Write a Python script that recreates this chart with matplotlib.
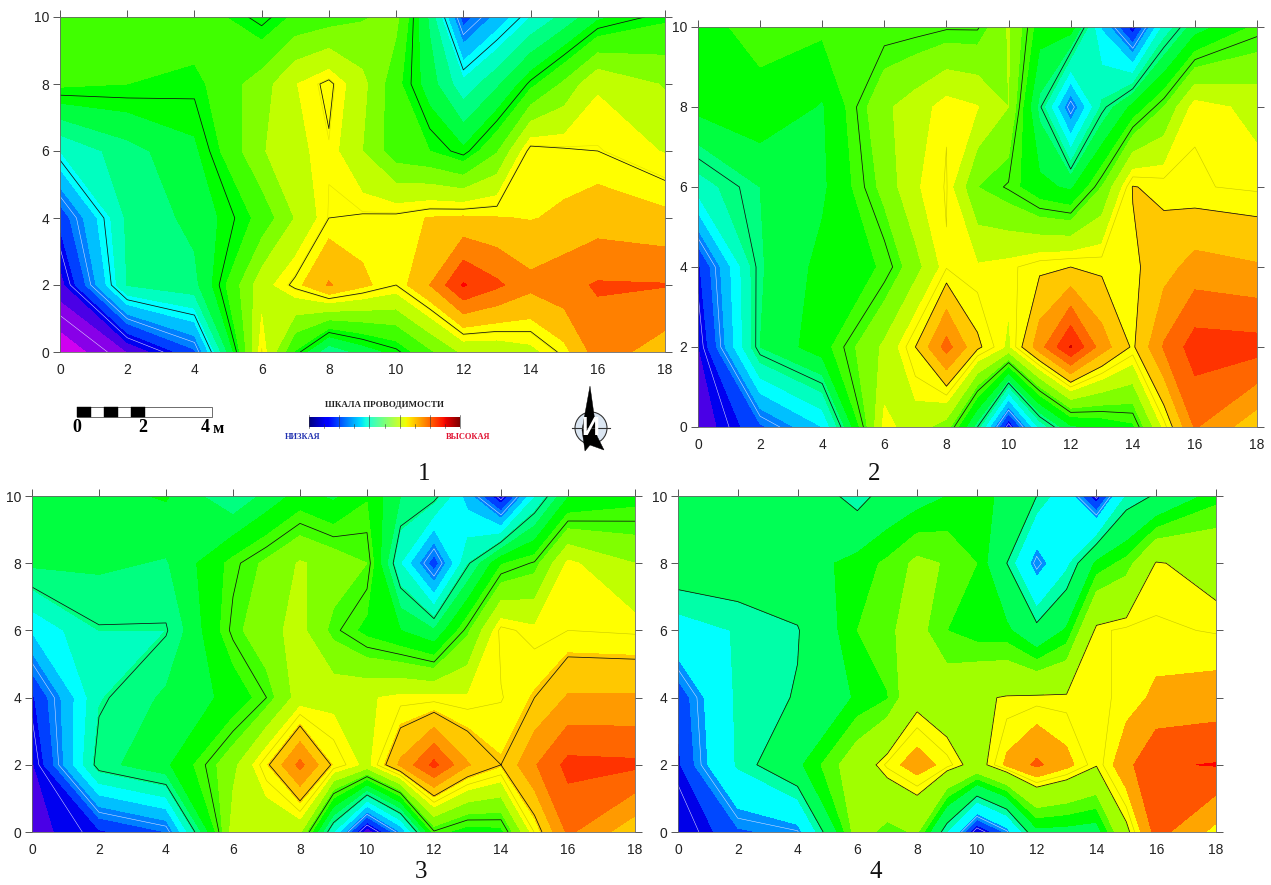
# Four conductivity contour maps with scale bar, colour scale and north arrow
import numpy as np
import matplotlib
matplotlib.use('Agg')
import matplotlib.pyplot as plt
from matplotlib.patches import Rectangle, Circle, Polygon

W, H = 1271, 885

x_vals = [0, 2, 4, 6, 7, 8, 9, 10, 11, 12, 13, 14, 15, 16, 18]
y_vals = [10, 8, 6, 4, 2, 0]
x_ticks = list(range(0, 19, 2))
y_ticks = list(range(0, 11, 2))

# values are in colour-band units, rows go from y=10 down to y=0
panel1_z = [
    [12.5, 12.5, 12.7, 11.2, 12.2, 12.5, 12.9, 13.3, 9.8, 4.5, 6.3, 8.0, 9.3, 10.8, 11.8],
    [12.2, 12.0, 11.7, 13.5, 14.95, 15.7, 14.3, 12.3, 10.5, 8.3, 9.8, 11.7, 13.2, 14.9, 13.9],
    [8.0, 9.6, 10.8, 13.9, 14.7, 15.4, 14.0, 12.4, 12.0, 11.2, 12.9, 15.8, 15.6, 15.5, 14.95],
    [4.3, 9.2, 10.3, 12.3, 14.05, 15.5, 15.6, 15.7, 16.05, 16.15, 16.05, 15.95, 16.15, 16.5, 16.2],
    [2.5, 9.05, 9.7, 14.6, 15.7, 17.1, 16.2, 15.5, 17.0, 19.1, 18.2, 17.3, 17.7, 18.1, 18.05],
    [0.3, 2.0, 4.8, 15.5, 11.9, 9.2, 10.4, 11.3, 12.8, 14.2, 14.3, 14.7, 15.7, 17.5, 16.5],
]
panel2_z = [
    [11.8, 12.2, 12.2, 12.1, 12.2, 12.4, 12.4, 14.1, 11.5, 11.6, 6.9, 3.4, 8.3, 10.5, 12.2],
    [11.3, 11.8, 10.9, 13.8, 14.5, 15.4, 15.05, 14.0, 9.7, 5.0, 9.2, 11.3, 13.0, 15.4, 14.7],
    [8.5, 10.0, 10.8, 13.3, 14.9, 15.5, 13.0, 12.4, 11.3, 10.8, 13.0, 16.05, 15.75, 15.5, 15.35],
    [3.8, 9.9, 11.3, 12.1, 13.6, 15.4, 15.1, 15.3, 15.8, 16.0, 15.8, 15.8, 16.6, 17.4, 17.1],
    [2.9, 10.0, 11.6, 14.2, 16.0, 18.4, 16.2, 14.8, 17.6, 20.1, 17.5, 15.85, 18.1, 19.5, 19.4],
    [2.2, 4.8, 7.0, 15.3, 14.5, 13.5, 9.5, 3.0, 8.3, 10.8, 11.3, 11.8, 15.2, 18.1, 16.3],
]
panel3_z = [
    [10.8, 10.7, 11.1, 9.1, 10.3, 11.4, 10.8, 11.9, 10.0, 9.5, 6.5, 3.0, 7.9, 10.9, 11.6],
    [10.2, 10.2, 9.9, 12.3, 13.2, 14.1, 13.6, 13.0, 8.0, 4.4, 8.9, 11.9, 12.6, 15.2, 14.0],
    [7.1, 9.0, 9.0, 12.7, 13.7, 14.3, 12.7, 11.7, 11.0, 10.1, 12.8, 15.65, 15.2, 15.45, 15.35],
    [3.8, 8.9, 10.2, 11.3, 12.5, 14.5, 14.7, 14.9, 15.2, 15.2, 15.1, 15.4, 16.1, 17.1, 17.1],
    [2.8, 9.6, 10.8, 13.7, 15.9, 18.3, 15.9, 14.7, 17.2, 19.3, 17.1, 16.1, 17.9, 19.3, 19.2],
    [2.6, 3.8, 5.0, 14.5, 14.0, 14.2, 8.0, 2.2, 6.0, 12.4, 11.5, 11.7, 15.5, 18.2, 16.3],
]
panel4_z = [
    [10.5, 10.5, 10.6, 8.3, 9.8, 10.4, 11.0, 11.4, 10.7, 9.0, 6.8, 3.2, 8.1, 9.2, 11.6],
    [10.1, 10.2, 10.2, 11.5, 12.2, 13.3, 12.9, 12.0, 9.0, 5.1, 7.6, 11.3, 12.4, 15.1, 14.5],
    [7.3, 8.1, 8.9, 12.0, 12.8, 13.5, 12.0, 11.4, 11.3, 9.5, 11.2, 15.3, 15.6, 15.55, 15.4],
    [4.2, 8.3, 9.1, 11.2, 11.9, 14.6, 14.0, 14.8, 15.1, 15.2, 15.2, 15.3, 15.6, 16.2, 16.4],
    [3.8, 8.2, 10.7, 14.0, 15.6, 16.5, 15.7, 14.4, 16.2, 17.2, 16.3, 15.1, 16.7, 17.9, 18.05],
    [2.8, 4.8, 5.4, 13.8, 12.5, 13.2, 8.0, 2.8, 5.3, 10.6, 10.5, 10.3, 14.7, 17.4, 15.7],
]

# colours of the bands, one per unit of z
cold = ['#d000f0', '#8800e8', '#4a00e6', '#0000f0', '#0040ff', '#0080ff', '#00c0ff', '#00ffff',
        '#00ffc0', '#00ff80', '#00ff40', '#00ff00', '#40ff00', '#80ff00', '#c0ff00', '#ffff00']
hot1 = ['#ffc000', '#ff8000', '#ff4000', '#ff0000', '#d00000', '#a00000', '#800000']
hot2 = ['#ffc800', '#ff9a00', '#ff6600', '#ff3300', '#d00000', '#a00000', '#800000']
cold4 = ['#0000e8', '#0000e8', '#0000e8', '#0000e8', '#0048ff', '#0090ff', '#00ffff', '#00ffff',
         '#00ffa8', '#00ff55', '#00ff55', '#00ff00', '#50ff00', '#a0ff00', '#a0ff00', '#ffff00']
hot4 = ['#ffa500', '#ff5500', '#ff0000', '#d00000', '#a00000', '#a00000', '#800000']

levels = list(range(0, 24))


def px_axes(fig, left, right, top, bottom):
    '''
    Axes placed by its pixel box on the figure
    '''
    return fig.add_axes([left / W, 1 - bottom / H, (right - left) / W, (bottom - top) / H])


def draw_panel(fig, box, z, colors, black_levels, light_color):
    ax = px_axes(fig, *box)
    zz = np.flipud(np.array(z))
    yy = np.array(y_vals)[::-1]
    ax.contourf(x_vals, yy, zz, levels=levels, colors=colors)
    ax.contour(x_vals, yy, zz, levels=[1.5, 3.5, 5.5], colors='#e8e8ff', linewidths=0.35)
    ax.contour(x_vals, yy, zz, levels=[15.45], colors=light_color, linewidths=0.4)
    ax.contour(x_vals, yy, zz, levels=black_levels, colors='#101010', linewidths=0.55)
    ax.set_xlim(0, 18)
    ax.set_ylim(0, 10)
    ax.set_xticks(x_ticks)
    ax.set_yticks(y_ticks)
    ax.tick_params(top=True, right=True, bottom=False, left=True, length=5, width=0.7,
                   color='#555555', labelsize=10, labelcolor='#222222', pad=3)
    for sp in ax.spines.values():
        sp.set_linewidth(0.6)
        sp.set_color('#666666')
    return ax


plt.rcParams['font.family'] = ['Liberation Sans', 'DejaVu Sans']
fig = plt.figure(figsize=(W / 100, H / 100), dpi=100)

draw_panel(fig, (60, 665, 17, 352), panel1_z, cold + hot1, [7.5, 11.5, 15.5], '#e0e000')
draw_panel(fig, (698, 1257, 27, 427), panel2_z, cold + hot2, [9.5, 12.5, 16.0], '#c8c800')
draw_panel(fig, (32, 635, 496, 832), panel3_z, cold + hot2, [9.1, 12.5, 16.1], '#c8c800')
draw_panel(fig, (678, 1216, 496, 832), panel4_z, cold4 + hot4, [9.0, 15.0], '#c8c800')

# overlay in pixel coordinates for the legend items and the panel numbers
ov = fig.add_axes([0, 0, 1, 1], zorder=5)
ov.set_xlim(0, W)
ov.set_ylim(H, 0)
ov.axis('off')
ov.patch.set_alpha(0)

serif = ['Liberation Serif', 'DejaVu Serif']

for num, px, py in [('1', 424, 474), ('2', 874, 474), ('3', 421, 872), ('4', 876, 872)]:
    ov.text(px, py, num, family=serif, fontsize=18, ha='center', va='center', color='#111111')

# scale bar
ov.add_patch(Rectangle((77, 407), 135, 10, fc='white', ec='#555555', lw=0.6))
for sx in [77, 104, 131]:
    ov.add_patch(Rectangle((sx, 407), 14, 10, fc='black', ec='black', lw=0.3))
for label, sx in [('0', 77), ('2', 143), ('4', 205)]:
    ov.text(sx, 428, label, family=serif, fontsize=13, fontweight='bold', ha='center', va='center')
ov.text(218, 429, 'м', family=serif, fontsize=12, fontweight='bold', ha='center', va='center')

# conductivity colour scale
ov.text(384, 405, 'ШКАЛА ПРОВОДИМОСТИ', family=serif, fontsize=6.5, fontweight='bold',
        ha='center', va='center', color='#222222')
ov.imshow(np.linspace(0, 1, 256).reshape(1, -1), cmap='jet', extent=(309, 460, 427, 417), aspect='auto')
ov.set_xlim(0, W)
ov.set_ylim(H, 0)
for i, tx in enumerate(np.linspace(309, 460, 11)):
    ov.plot([tx, tx], [415 if i % 2 == 0 else 424, 428], color='#333333', lw=0.4)
ov.text(303, 437, 'НИЗКАЯ', family=serif, fontsize=6, fontweight='bold', ha='center', va='center', color='#2030b0')
ov.text(468, 437, 'ВЫСОКАЯ', family=serif, fontsize=6, fontweight='bold', ha='center', va='center', color='#e01030')

# north arrow
ov.add_patch(Circle((591, 428), 16, fc='#dbe6f2', ec='#333333', lw=0.8))
ov.plot([572, 610], [428, 428], color='#333333', lw=0.8)
ov.add_patch(Polygon([(590, 386), (597, 436), (604, 450), (590, 445), (585, 451), (582, 430)],
                     fc='black', ec='black', lw=0.3))
ov.text(590, 428, 'И', family=['Liberation Sans'], fontsize=18, fontweight='bold', color='white',
        ha='center', va='center')

fig.savefig('out.png', dpi=100)
